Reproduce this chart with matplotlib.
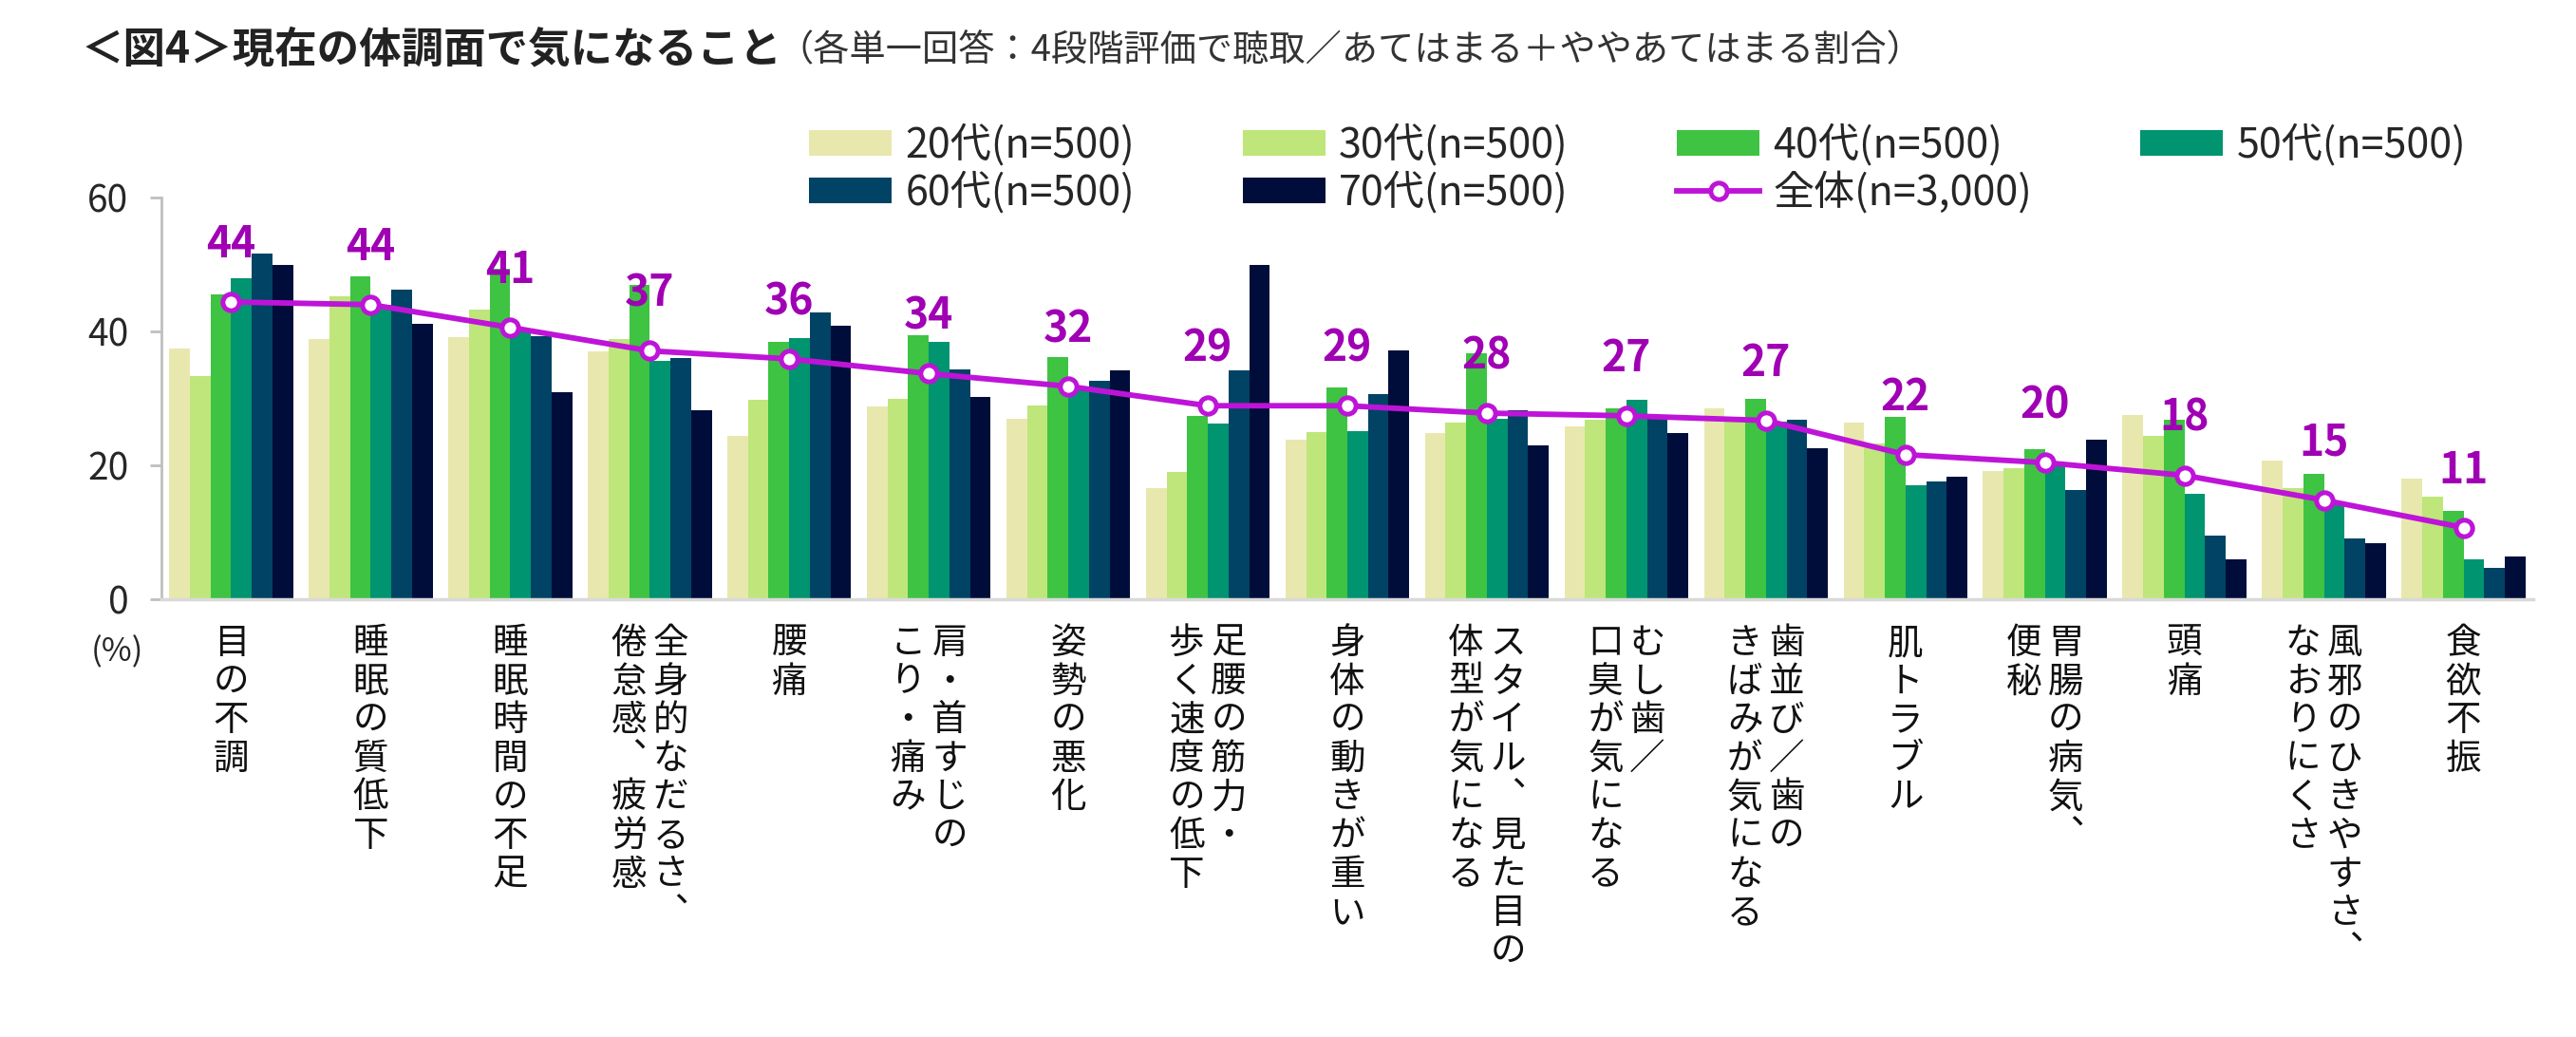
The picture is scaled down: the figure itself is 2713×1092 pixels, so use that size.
import matplotlib
matplotlib.use("Agg")
import matplotlib.pyplot as plt
import numpy as np
from matplotlib.transforms import blended_transform_factory

plt.rcParams['font.family'] = ['Noto Sans CJK JP', 'DejaVu Sans']

# ---------------- data ----------------
categories = [
    "目の不調",
    "睡眠の質低下",
    "睡眠時間の不足",
    "全身的なだるさ、\n倦怠感、疲労感",
    "腰痛",
    "肩・首すじの\nこり・痛み",
    "姿勢の悪化",
    "足腰の筋力・\n歩く速度の低下",
    "身体の動きが重い",
    "スタイル、見た目の\n体型が気になる",
    "むし歯／\n口臭が気になる",
    "歯並び／歯の\nきばみが気になる",
    "肌トラブル",
    "胃腸の病気、\n便秘",
    "頭痛",
    "風邪のひきやすさ、\nなおりにくさ",
    "食欲不振",
]

series_names = ["20代(n=500)", "30代(n=500)", "40代(n=500)",
                "50代(n=500)", "60代(n=500)", "70代(n=500)"]
total_name = "全体(n=3,000)"

age20 = [37.4, 38.8, 39.1, 37.0, 24.4, 28.8, 26.9, 16.6, 23.9, 24.8, 25.8, 28.5, 26.4, 19.1, 27.5, 20.7, 18.0]
age30 = [33.3, 45.3, 43.2, 38.8, 29.8, 29.9, 28.9, 19.0, 24.9, 26.4, 26.8, 26.7, 23.3, 19.6, 24.4, 16.6, 15.3]
age40 = [45.6, 48.2, 49.3, 46.9, 38.5, 39.5, 36.1, 27.4, 31.6, 36.7, 28.5, 29.9, 27.2, 22.4, 26.8, 18.7, 13.2]
age50 = [48.0, 44.0, 40.2, 35.6, 39.0, 38.4, 31.5, 26.2, 25.1, 26.9, 29.8, 26.5, 17.0, 20.0, 15.7, 14.3, 6.0]
age60 = [51.6, 46.2, 39.3, 36.0, 42.9, 34.3, 32.6, 34.2, 30.6, 28.2, 26.9, 26.8, 17.6, 16.3, 9.5, 9.1, 4.7]
age70 = [50.0, 41.1, 30.9, 28.2, 40.8, 30.2, 34.2, 50.0, 37.1, 23.0, 24.8, 22.5, 18.3, 23.9, 6.0, 8.4, 6.4]
total = [44.4, 44.0, 40.6, 37.1, 35.9, 33.7, 31.8, 28.9, 28.9, 27.8, 27.4, 26.7, 21.6, 20.4, 18.5, 14.8, 10.7]
total_labels = [44, 44, 41, 37, 36, 34, 32, 29, 29, 28, 27, 27, 22, 20, 18, 15, 11]

yticks = [0, 20, 40, 60]

title_main = "＜図4＞現在の体調面で気になること"
title_sub = "（各単一回答：4段階評価で聴取／あてはまる＋ややあてはまる割合）"

# ---------------- style ----------------
bar_colors = ["#E8E8AE", "#BEE67A", "#3EC343", "#009470", "#004364", "#000D3A"]
line_color = "#BE14D8"
label_color = "#A000B4"
text_color = "#262626"

W, H = 2713, 1092
fig = plt.figure(figsize=(W / 100, H / 100), dpi=100)
ax = fig.add_axes([170 / W, 1 - 631 / H, (2668 - 170) / W, (631 - 208) / H])

series = [age20, age30, age40, age50, age60, age70]
x = np.arange(len(categories))
bw = 0.148
bars = []
for i, (vals, col, name) in enumerate(zip(series, bar_colors, series_names)):
    b = ax.bar(x + (i - 2.5) * bw, vals, width=bw, color=col, label=name, zorder=2)
    bars.append(b)

ln, = ax.plot(x, total, color=line_color, lw=4.2, marker='o', ms=12.5,
              mfc='white', mec=line_color, mew=3.6, zorder=5, label=total_name)

for i, (v, lab) in enumerate(zip(total, total_labels)):
    ax.annotate(str(lab), (i, v), xytext=(0, 43), textcoords='offset points',
                ha='center', va='center', fontsize=32, fontweight='bold',
                color=label_color, zorder=6)

ax.set_xlim(-0.5, len(categories) - 0.5)
ax.set_ylim(0, 60)
ax.set_yticks(yticks)
ax.set_yticklabels([str(t) for t in yticks], fontsize=28, color=text_color)
ax.set_xticks([])
ax.tick_params(axis='y', direction='out', length=9, width=2, color="#BFBFBF", pad=16)
for s in ("top", "right"):
    ax.spines[s].set_visible(False)
ax.spines["left"].set_color("#BFBFBF")
ax.spines["left"].set_linewidth(2)
ax.spines["bottom"].set_color("#D9D9D9")
ax.spines["bottom"].set_linewidth(2.5)

# vertical category labels (stacked characters, columns right-to-left)
trans = blended_transform_factory(ax.transData, ax.transAxes)
px2pt = 0.72
fs_cat = 27
col_pitch = 44 * px2pt
row_pitch = 40.6 * px2pt
first_base = 57 * px2pt
vertical_forms = {"、": "\ufe11"}
for i, lab in enumerate(categories):
    cols = lab.split("\n")
    n = len(cols)
    for c, txt in enumerate(cols):
        dx = ((n - 1) / 2 - c) * col_pitch
        for j, ch in enumerate(txt):
            ch = vertical_forms.get(ch, ch)
            ax.annotate(ch, (i, 0), xycoords=trans,
                        xytext=(dx, -first_base - j * row_pitch),
                        textcoords='offset points',
                        ha='center', va='baseline', fontsize=fs_cat, color="#111111",
                        annotation_clip=False)

fig.text(96 / W, 1 - 687 / H, "(%)", fontsize=25, color=text_color, ha='left', va='center')

# titles
fig.text(86 / W, 1 - 52 / H, title_main, fontsize=32, fontweight='bold',
         color="#222222", ha='left', va='center')
fig.text(818 / W, 1 - 54 / H, title_sub, fontsize=27.5, color="#333333",
         ha='left', va='center')

# legend (row-major order via column-first filling)
h = bars + [ln]
labels = series_names + [total_name]
order = [0, 4, 1, 5, 2, 6, 3]
fs_leg = 31
leg = fig.legend([h[k] for k in order], [labels[k] for k in order], ncol=4,
                 loc='upper left', bbox_to_anchor=(852 / W, 1 - 131 / H),
                 frameon=False, fontsize=fs_leg, handlelength=2.02, handleheight=0.6,
                 handletextpad=0.33, columnspacing=2.65, labelspacing=0.12,
                 borderpad=0, borderaxespad=0)
for t in leg.get_texts():
    t.set_color(text_color)

fig.savefig("out.png", dpi=100)
